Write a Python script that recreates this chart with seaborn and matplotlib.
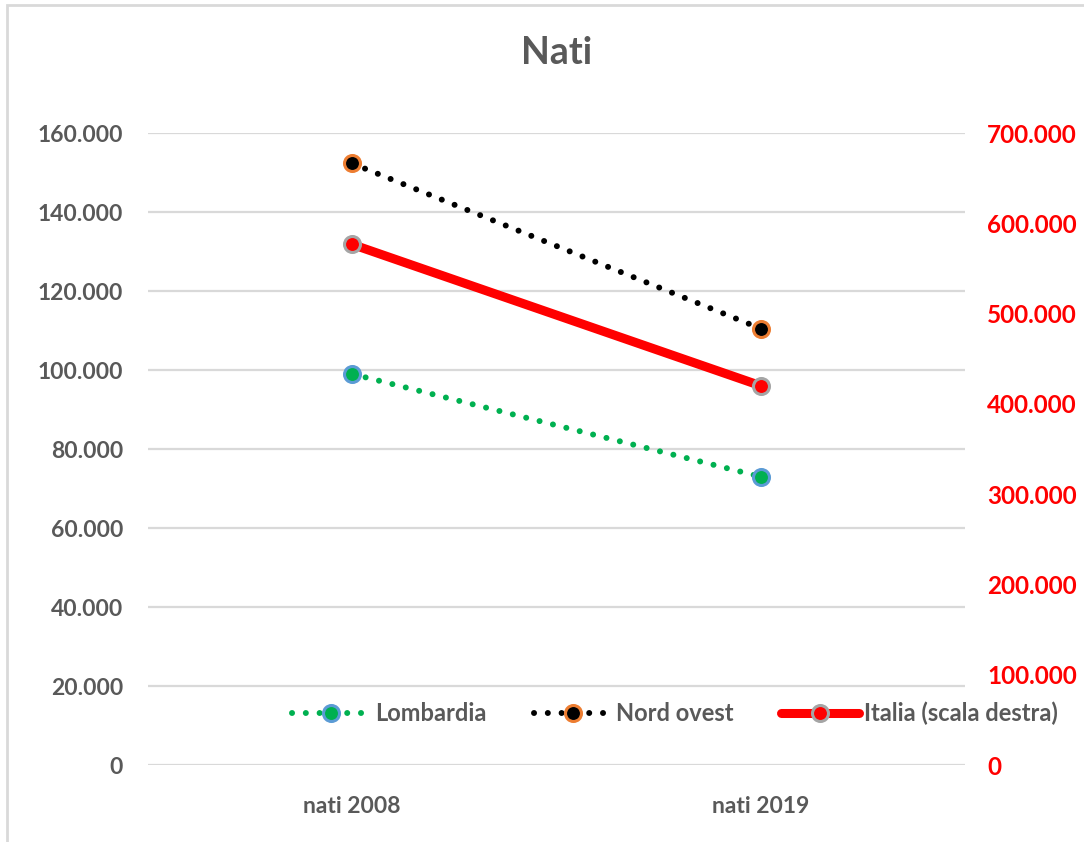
import matplotlib
matplotlib.use("Agg")
import matplotlib.pyplot as plt
import seaborn as sns
from matplotlib.patches import Rectangle
from matplotlib.ticker import FuncFormatter, MultipleLocator

# data
categorie = ["nati 2008", "nati 2019"]
lombardia = [99000, 73000]
nord_ovest = [152300, 110500]
italia = [576659, 420084]  # scala destra

sns.set_style("white")
plt.rcParams['font.family'] = ['Lato', 'DejaVu Sans']
grigio = '#595959'

fig = plt.figure(figsize=(10.84, 8.42), dpi=100)
ax = fig.add_axes([0.1365, 0.0914, 0.7537, 0.7506])
ax2 = ax.twinx()

dot = (0, (0.01, 2.3))
sns.lineplot(x=categorie, y=lombardia, ax=ax, color='#00B050', lw=4.3, linestyle=dot,
             dash_capstyle='round', marker='o', markersize=11.5, markerfacecolor='#00B050',
             markeredgecolor='#5B9BD5', markeredgewidth=2.2, label='Lombardia', legend=False)
sns.lineplot(x=categorie, y=nord_ovest, ax=ax, color='black', lw=4.3, linestyle=dot,
             dash_capstyle='round', marker='o', markersize=11.5, markerfacecolor='black',
             markeredgecolor='#ED7D31', markeredgewidth=2.2, label='Nord ovest', legend=False)
sns.lineplot(x=categorie, y=italia, ax=ax2, color='#FF0000', lw=6.5,
             marker='o', markersize=11.5, markerfacecolor='#FF0000',
             markeredgecolor='#A5A5A5', markeredgewidth=2.2, label='Italia (scala destra)', legend=False)

fmt = FuncFormatter(lambda v, p: f"{int(round(v)):,}".replace(",", "."))

ax.set_xlim(-0.5, 1.5)
ax.set_ylim(0, 160000)
ax.yaxis.set_major_locator(MultipleLocator(20000))
ax.yaxis.set_major_formatter(fmt)
ax2.set_ylim(0, 700000)
ax2.yaxis.set_major_locator(MultipleLocator(100000))
ax2.yaxis.set_major_formatter(fmt)

ax.grid(axis='y', color='#D9D9D9', lw=1.6)
ax.set_axisbelow(True)
for a in (ax, ax2):
    for s in a.spines.values():
        s.set_visible(False)
    a.set_xlabel('')
    a.set_ylabel('')

ax.tick_params(axis='y', length=0, pad=18, labelsize=16.5, labelcolor=grigio)
ax.tick_params(axis='x', length=0, pad=22, labelsize=16.5, labelcolor=grigio)
ax2.tick_params(axis='y', length=0, pad=16, labelsize=17.5, labelcolor='#FF0000')
for t in ax.get_xticklabels() + ax.get_yticklabels() + ax2.get_yticklabels():
    t.set_fontweight('bold')

fig.suptitle('Nati', x=0.513, y=0.957, fontsize=27, fontweight='bold', color=grigio)

h1, l1 = ax.get_legend_handles_labels()
h2, l2 = ax2.get_legend_handles_labels()
leg = ax2.legend(h1 + h2, l1 + l2, loc='center', bbox_to_anchor=(0.645, 0.082), ncol=3,
                 frameon=False, fontsize=17, handlelength=3.3, handletextpad=0.2,
                 columnspacing=2.0)
for t in leg.get_texts():
    t.set_color(grigio)
    t.set_fontweight('bold')

fig.patches.append(Rectangle((0.0065, -0.05), 1.2, 1.044, transform=fig.transFigure,
                             fill=False, edgecolor='#D9D9D9', lw=2))

fig.savefig('out.png', dpi=100)
